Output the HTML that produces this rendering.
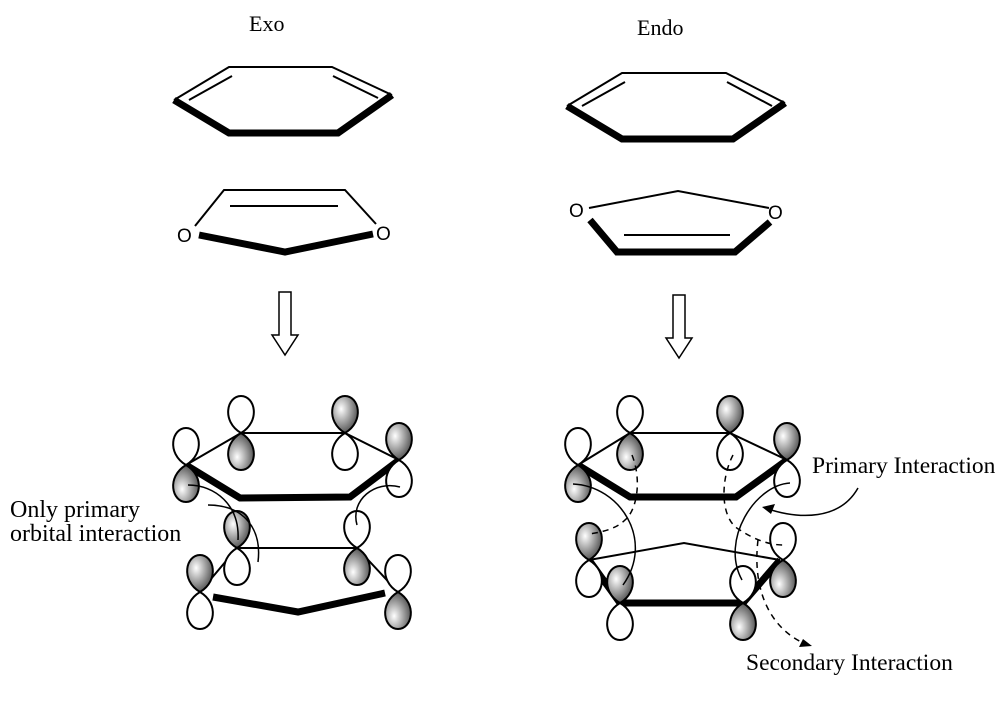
<!DOCTYPE html>
<html><head><meta charset="utf-8"><style>
body{margin:0;background:#fff;}
svg{display:block;}
text{font-family:"Liberation Serif",serif;fill:#000;}
.o{font-family:"Liberation Sans",sans-serif;font-size:19px;}
</style></head><body>
<svg width="1006" height="724" viewBox="0 0 1006 724" xmlns="http://www.w3.org/2000/svg">
<defs>
<radialGradient id="g" cx="0.35" cy="0.35" r="0.8">
<stop offset="0" stop-color="#fff"/><stop offset="0.5" stop-color="#999"/><stop offset="1" stop-color="#333"/>
</radialGradient>
<path id="lw" d="M0,0 C-20,-12 -14,-37 0,-37 C14,-37 20,-12 0,0Z" fill="#fff" stroke="#000" stroke-width="2"/>
<path id="ls" d="M0,0 C-20,-12 -14,-37 0,-37 C14,-37 20,-12 0,0Z" fill="url(#g)" stroke="#000" stroke-width="2"/>
</defs>
<g fill="none" stroke="#000">
<text x="249" y="31" font-size="22" stroke="none">Exo</text>
<text x="637" y="35" font-size="22" stroke="none">Endo</text>

<polyline points="174,100 229,67 332,67 392,95" stroke-width="2"/>
<polyline points="174,100 229,133 338,133 392,95" stroke-width="7"/>
<line x1="189" y1="100" x2="232" y2="76" stroke-width="2"/>
<line x1="333" y1="76" x2="378" y2="98" stroke-width="2"/>
<polyline points="195,226 224,190 345,190 376,224" stroke-width="2"/>
<line x1="230" y1="206" x2="338" y2="206" stroke-width="2"/>
<polyline points="199,235 285,252 373,234" stroke-width="7"/>
<text class="o" x="177" y="242" stroke="none">O</text>
<text class="o" x="376" y="240" stroke="none">O</text>

<polyline points="567,106 622,73 726,73 785,103" stroke-width="2"/>
<polyline points="567,106 622,139 733,139 785,103" stroke-width="7"/>
<line x1="582" y1="106" x2="625" y2="82" stroke-width="2"/>
<line x1="727" y1="82" x2="772" y2="106" stroke-width="2"/>
<polyline points="589,208 678,191 769,208" stroke-width="2"/>
<polyline points="590,220 617,252 735,252 770,222" stroke-width="7"/>
<line x1="624" y1="235" x2="730" y2="235" stroke-width="2"/>
<text class="o" x="569" y="217" stroke="none">O</text>
<text class="o" x="768" y="219" stroke="none">O</text>

<path d="M279,292 H291 V335 H298 L285,355 L272,335 H279 Z" stroke-width="1.5"/>
<path d="M673,295 H685 V338 H692 L679,358 L666,338 H673 Z" stroke-width="1.5"/>

<polyline points="186,465 241,433 345,433 399,460" stroke-width="2"/>
<polyline points="186,465 240,498 350,497 399,460" stroke-width="7"/>
<polyline points="200,592 237,548 357,548 398,592" stroke-width="2"/>
<polyline points="213,597 298,612 385,593" stroke-width="7"/>
</g>
<g>
<use href="#lw" x="186" y="465"/><use href="#ls" transform="translate(186,465) scale(1,-1)"/>
<use href="#lw" x="241" y="433"/><use href="#ls" transform="translate(241,433) scale(1,-1)"/>
<use href="#ls" x="345" y="433"/><use href="#lw" transform="translate(345,433) scale(1,-1)"/>
<use href="#ls" x="399" y="460"/><use href="#lw" transform="translate(399,460) scale(1,-1)"/>
<use href="#ls" x="237" y="548"/><use href="#lw" transform="translate(237,548) scale(1,-1)"/>
<use href="#lw" x="357" y="548"/><use href="#ls" transform="translate(357,548) scale(1,-1)"/>
<use href="#ls" x="200" y="592"/><use href="#lw" transform="translate(200,592) scale(1,-1)"/>
<use href="#lw" x="398" y="592"/><use href="#ls" transform="translate(398,592) scale(1,-1)"/>
</g>
<g fill="none" stroke="#000" stroke-width="1.5">
<path d="M188,485 C215,485 240,505 238,540"/>
<path d="M208,505 C245,505 262,530 258,562"/>
<path d="M400,487 C375,480 350,500 357,525"/>
</g>
<text x="10" y="517" font-size="24">Only primary</text>
<text x="10" y="541" font-size="24">orbital interaction</text>

<g fill="none" stroke="#000">
<polyline points="578,465 630,433 730,433 787,460" stroke-width="2"/>
<polyline points="578,465 630,497 736,497 787,460" stroke-width="7"/>
<polyline points="589,560 684,543 780,560" stroke-width="2"/>
<polyline points="589,560 620,603 743,603 780,560" stroke-width="7"/>
</g>
<g>
<use href="#lw" x="578" y="465"/><use href="#ls" transform="translate(578,465) scale(1,-1)"/>
<use href="#lw" x="630" y="433"/><use href="#ls" transform="translate(630,433) scale(1,-1)"/>
<use href="#ls" x="730" y="433"/><use href="#lw" transform="translate(730,433) scale(1,-1)"/>
<use href="#ls" x="787" y="460"/><use href="#lw" transform="translate(787,460) scale(1,-1)"/>
<use href="#ls" x="589" y="560"/><use href="#lw" transform="translate(589,560) scale(1,-1)"/>
<use href="#lw" x="783" y="560"/><use href="#ls" transform="translate(783,560) scale(1,-1)"/>
<use href="#ls" x="620" y="603"/><use href="#lw" transform="translate(620,603) scale(1,-1)"/>
<use href="#lw" x="743" y="603"/><use href="#ls" transform="translate(743,603) scale(1,-1)"/>
</g>
<g fill="none" stroke="#000" stroke-width="1.5">
<path d="M573,484 C620,486 655,540 623,585"/>
<path d="M790,483 C755,485 720,540 742,580"/>
<path d="M632,455 C642,480 637,510 625,520 C615,530 600,532 590,534" stroke-dasharray="6,5"/>
<path d="M733,455 C720,480 720,520 740,530 C755,540 770,545 783,545" stroke-dasharray="6,5"/>
<path d="M758,540 C752,590 770,630 808,645" stroke-dasharray="6,5"/>
<path d="M858,488 C840,520 800,520 765,508"/>
</g>
<path d="M762,507 L775,504 L771,514 Z" fill="#000"/>
<path d="M812,646 L799,647 L803,639 Z" fill="#000"/>
<text x="812" y="473" font-size="23.5">Primary Interaction</text>
<text x="746" y="670" font-size="23.5">Secondary Interaction</text>
</svg>
</body></html>
